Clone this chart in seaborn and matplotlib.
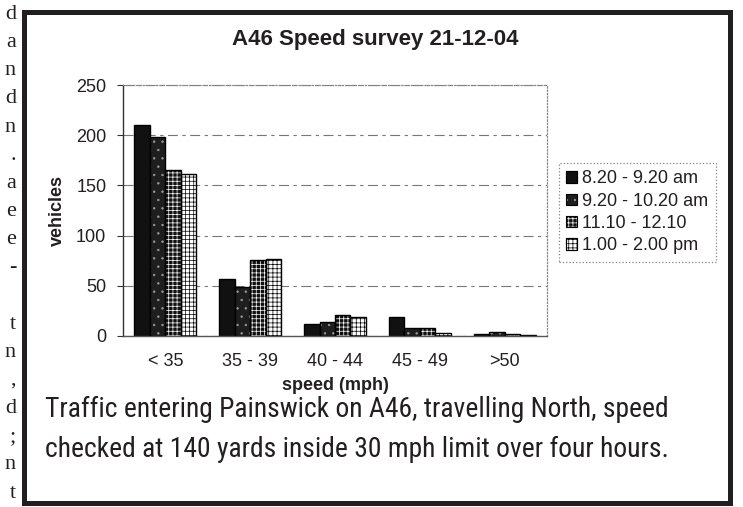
import pandas as pd
import matplotlib
matplotlib.use("Agg")
import matplotlib.pyplot as plt
from matplotlib import font_manager
from matplotlib.patches import Patch, Rectangle
import seaborn as sns

speed_bins = ["< 35", "35 - 39", "40 - 44", "45 - 49", ">50"]
periods = ["8.20 - 9.20 am", "9.20 - 10.20 am", "11.10 - 12.10", "1.00 - 2.00 pm"]
early_am = [210, 57, 12, 19, 2]
late_am = [198, 49, 14, 8, 4]
midday = [165, 76, 21, 8, 2]
afternoon = [161, 77, 19, 3, 1]
y_ticks = [0, 50, 100, 150, 200, 250]

caption = ["Traffic entering Painswick on A46, travelling North, speed",
           "checked at 140 yards inside 30 mph limit over four hours."]
# line endings of the neighbouring newspaper column, cut by the scan
margin_letters = ["d", "a", "n", "d", "n", ".", "a", "e", "e", "-", "",
                  "t", "n", ",", "d", ";", "n", "t"]

rows = []
for period, counts in zip(periods, [early_am, late_am, midday, afternoon]):
    for sb, n in zip(speed_bins, counts):
        rows.append({"speed": sb, "period": period, "vehicles": n})
df = pd.DataFrame(rows)

sns.set_theme(style="white")
plt.rcParams["font.family"] = ["Liberation Sans", "DejaVu Sans"]
plt.rcParams["hatch.linewidth"] = 0.5
ink = "#231f20"

fig = plt.figure(figsize=(7.43, 5.07), dpi=100)
ax = fig.add_axes([123 / 743, 1 - 336 / 507, 424 / 743, 251 / 507])

sns.barplot(data=df, x="speed", y="vehicles", hue="period", order=speed_bins,
            hue_order=periods, palette=["black"] * 4, width=0.73,
            edgecolor="black", linewidth=1, legend=False, ax=ax)

# bar fills: solid, speckled, dark grid, light grid
styles = [
    dict(facecolor="#111111", edgecolor="black", hatch=None),
    dict(facecolor="#1e1e1e", edgecolor="#9a9a9a", hatch=".."),
    dict(facecolor="#111111", edgecolor="white", hatch="++++"),
    dict(facecolor="white", edgecolor="black", hatch="++++"),
]
for cont, st in zip(ax.containers, styles):
    for bar in cont:
        bar.set_facecolor(st["facecolor"])
        bar.set_edgecolor(st["edgecolor"])
        bar.set_hatch(st["hatch"])
        if st["edgecolor"] != "black":
            bar.set_linewidth(0)
            ax.add_patch(Rectangle(bar.get_xy(), bar.get_width(), bar.get_height(),
                                   fill=False, edgecolor="black", lw=1, zorder=3))

ax.set_ylim(0, 250)
ax.set_yticks(y_ticks)
ax.set_axisbelow(True)
ax.grid(axis="y", color="#777777", linestyle=(0, (9, 4, 3, 4)), lw=0.8)
ax.grid(axis="x", visible=False)
for side in ["top", "right"]:
    ax.spines[side].set_color("#888888")
    ax.spines[side].set_linestyle(":")
    ax.spines[side].set_linewidth(0.9)
ax.spines["left"].set_color("#333333")
ax.spines["bottom"].set_color("#555555")
for side in ["left", "bottom"]:
    ax.spines[side].set_linewidth(1)

ax.tick_params(axis="y", direction="out", length=4, width=0.8, color="#333333",
               pad=8, labelsize=13, labelcolor=ink, left=True)
ax.tick_params(axis="x", length=0, pad=12, labelsize=13, labelcolor=ink)
ax.set_xlabel("speed (mph)", fontsize=13, fontweight="bold", color=ink, labelpad=5)
ax.set_ylabel("vehicles", fontsize=13, fontweight="bold", color=ink, labelpad=7)

handles = []
for st in styles:
    h = Patch(facecolor=st["facecolor"], edgecolor=st["edgecolor"], hatch=st["hatch"],
              lw=0 if st["edgecolor"] != "black" else 0.8)
    outline = Patch(facecolor="none", edgecolor="black", lw=0.8)
    handles.append((h, outline))
leg = fig.legend(handles, periods, loc="upper left",
                 bbox_to_anchor=(559 / 743, 1 - 163 / 507), borderaxespad=0,
                 fontsize=13, handlelength=0.6, handleheight=0.6,
                 handletextpad=0.3, labelspacing=0.3, borderpad=0.4,
                 fancybox=False, labelcolor=ink)
leg.get_frame().set_edgecolor("#666666")
leg.get_frame().set_linestyle(":")
leg.get_frame().set_linewidth(0.9)

fig.text(375 / 743, 1 - 40 / 507, "A46 Speed survey 21-12-04", ha="center",
         va="center", fontsize=16, fontweight="bold", color=ink)

# caption in a narrow face if one is installed, sized to the printed line width
cap_prop = font_manager.FontProperties(family="Liberation Sans")
for want in ["Liberation Sans Narrow", "Roboto Condensed", "Noto Sans", "Open Sans",
             "DejaVu Sans"]:
    found = [f for f in font_manager.fontManager.ttflist
             if f.name == want and f.style == "normal" and f.weight in (400, "normal", "regular")
             and ("Narrow" in want or "Condensed" in want
                  or f.stretch in ("condensed", "semi-condensed", 300))]
    if found:
        cap_prop = font_manager.FontProperties(fname=found[0].fname)
        break

cap_texts = [fig.text(45 / 743, 1 - 417 / 507, caption[0], fontproperties=cap_prop,
                      va="baseline", color=ink),
             fig.text(45 / 743, 1 - 457 / 507, caption[1], fontproperties=cap_prop,
                      va="baseline", color=ink)]
for t in cap_texts:
    t.set_fontsize(17)
fig.canvas.draw()
w = cap_texts[0].get_window_extent().width
for t in cap_texts:
    t.set_fontsize(17 * 625 / w)

for k, ch in enumerate(margin_letters):
    if ch:
        fig.text(16 / 743, 1 - (19 + 28.15 * k) / 507, ch, ha="right", va="baseline",
                 family=["Liberation Serif", "DejaVu Serif"], fontsize=16, color=ink)

fig.patches.append(Rectangle((23.5 / 743, 1 - 502.5 / 507), 706 / 743, 491 / 507,
                             transform=fig.transFigure, fill=False, edgecolor=ink,
                             lw=3.6))

fig.savefig("out.png", dpi=100)
